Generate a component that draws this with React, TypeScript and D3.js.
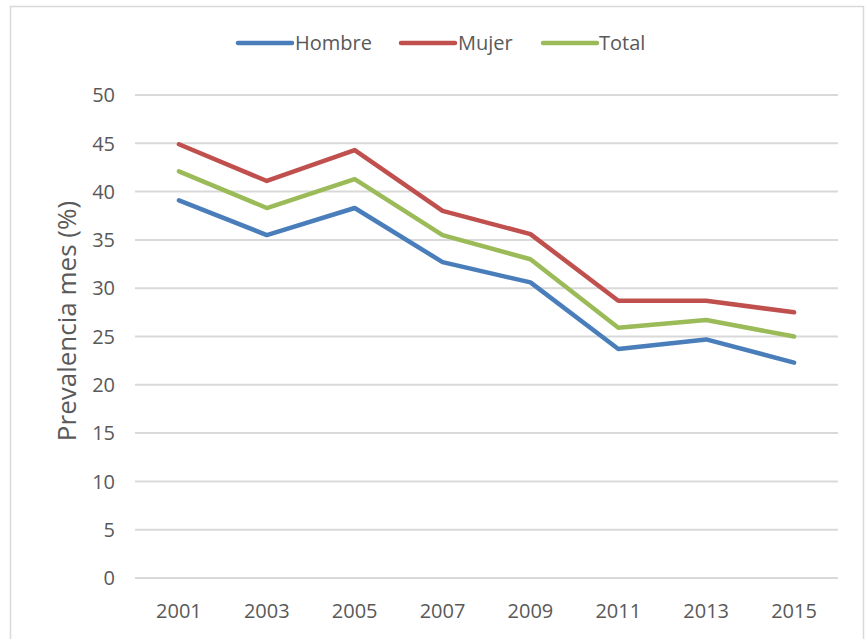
import React from "react";
import * as d3 from "d3";

const years = ["2001", "2003", "2005", "2007", "2009", "2011", "2013", "2015"];
const hombre = [39.1, 35.5, 38.3, 32.7, 30.6, 23.7, 24.7, 22.3];
const mujer = [44.9, 41.1, 44.3, 38.0, 35.6, 28.7, 28.7, 27.5];
const total = [42.1, 38.3, 41.3, 35.5, 33.0, 25.9, 26.7, 25.0];
const yTicks = [0, 5, 10, 15, 20, 25, 30, 35, 40, 45, 50];

const seriesNames = ["Hombre", "Mujer", "Total"];
const seriesColors = ["#4A7EBB", "#C0504D", "#9BBB59"];
const seriesValues = [hombre, mujer, total];

export default function App() {
  const W = 866, H = 639;
  const left = 135, right = 838, top = 95, bottom = 578;
  const x = d3.scaleBand<string>().domain(years).range([left, right]);
  const y = d3.scaleLinear().domain([0, 50]).range([bottom, top]);
  const font = "'Open Sans', sans-serif";
  const line = d3
    .line<number>()
    .x((_, i) => (x(years[i]) as number) + x.bandwidth() / 2)
    .y((d) => y(d));

  const legendItems = [
    { lx: 238, tx: 295 },
    { lx: 401, tx: 458 },
    { lx: 543, tx: 599 },
  ];

  return (
    <svg
      width={W}
      height={H}
      style={{ position: "absolute", left: 0, top: 0, background: "#fff" }}
    >
      <path d="M10.5,660 V6.5 H863.5 V660" fill="none" stroke="#d9d9d9" strokeWidth={1.5} />
      {yTicks.map((t) => (
        <g key={t}>
          <line x1={left} x2={right} y1={y(t)} y2={y(t)} stroke="#d9d9d9" strokeWidth={2} />
          <text
            x={115}
            y={y(t)}
            dy="0.36em"
            textAnchor="end"
            fontFamily={font}
            fontSize={20}
            fill="#595959"
          >
            {t}
          </text>
        </g>
      ))}
      {years.map((yr) => (
        <text
          key={yr}
          x={(x(yr) as number) + x.bandwidth() / 2}
          y={618}
          textAnchor="middle"
          fontFamily={font}
          fontSize={20}
          fill="#595959"
        >
          {yr}
        </text>
      ))}
      <text
        transform={`translate(76,321) rotate(-90)`}
        textAnchor="middle"
        fontFamily={font}
        fontSize={26}
        fill="#595959"
      >
        Prevalencia mes (%)
      </text>
      {seriesValues.map((vals, i) => (
        <path
          key={seriesNames[i]}
          d={line(vals) || ""}
          fill="none"
          stroke={seriesColors[i]}
          strokeWidth={4.5}
          strokeLinejoin="round"
          strokeLinecap="round"
        />
      ))}
      {seriesNames.map((n, i) => (
        <g key={n}>
          <line
            x1={legendItems[i].lx}
            x2={legendItems[i].lx + 54}
            y1={43}
            y2={43}
            stroke={seriesColors[i]}
            strokeWidth={4.5}
            strokeLinecap="round"
          />
          <text
            x={legendItems[i].tx}
            y={43}
            dy="0.36em"
            fontFamily={font}
            fontSize={20}
            fill="#595959"
          >
            {n}
          </text>
        </g>
      ))}
    </svg>
  );
}
